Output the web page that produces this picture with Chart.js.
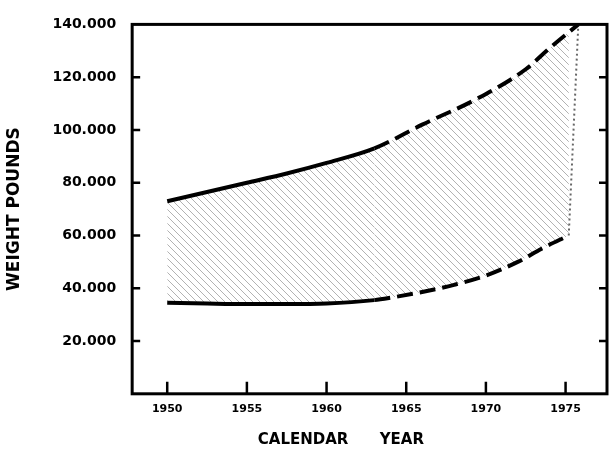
<!DOCTYPE html>
<html lang="en">
<head>
<meta charset="UTF-8">
<title>Weight vs Calendar Year</title>
<script src="https://cdn.jsdelivr.net/npm/chart.js"></script>
<style>
  html, body { margin: 0; padding: 0; background: #fff; }
  .wrap { width: 614px; height: 455px; }
</style>
</head>
<body>
<div class="wrap"><canvas id="weightChart"></canvas></div>
<script>
  // tick values
  const yearTicks = [1950, 1955, 1960, 1965, 1970, 1975];
  const weightTicks = [20000, 40000, 60000, 80000, 100000, 120000, 140000];

  // upper bound of the band (solid up to ~1963, dashed after)
  const upperYears   = [1950, 1952.5, 1955, 1957.5, 1960, 1963, 1966, 1969.5, 1972.5, 1974, 1975.8];
  const upperWeights = [73000, 76500, 80000, 83500, 87500, 93000, 102000, 112000, 123000, 131000, 140000];

  // lower bound of the band
  const lowerYears   = [1950, 1952.5, 1955, 1957.5, 1960, 1963, 1964, 1966, 1968, 1970, 1972, 1973.5, 1975.2];
  const lowerWeights = [34500, 34200, 34000, 34000, 34200, 35500, 36400, 38600, 41300, 44800, 50000, 55000, 60000];

  const dashFrom = 1963;

  function toPoints(xs, ys) {
    return xs.map((x, i) => ({ x: x, y: ys[i] }));
  }

  function hatch() {
    const c = document.createElement('canvas');
    c.width = 7; c.height = 7;
    const g = c.getContext('2d');
    g.strokeStyle = 'rgba(0,0,0,0.3)';
    g.lineWidth = 1;
    g.beginPath();
    g.moveTo(0, 0); g.lineTo(7, 7);
    g.moveTo(-1, 6); g.lineTo(1, 8);
    g.moveTo(6, -1); g.lineTo(8, 1);
    g.stroke();
    return g.createPattern(c, 'repeat');
  }

  // black box round the plot with inward tick marks
  const framePlugin = {
    id: 'frame',
    afterDraw(chart) {
      const { ctx, chartArea: a, scales: { x, y } } = chart;
      ctx.save();
      ctx.strokeStyle = '#000';
      ctx.lineWidth = 3;
      ctx.strokeRect(a.left, a.top, a.right - a.left, a.bottom - a.top);
      ctx.lineWidth = 2.5;
      ctx.beginPath();
      weightTicks.forEach(v => {
        if (v >= 140000) return;
        const py = y.getPixelForValue(v);
        ctx.moveTo(a.left, py); ctx.lineTo(a.left + 8, py);
        ctx.moveTo(a.right, py); ctx.lineTo(a.right - 8, py);
      });
      yearTicks.forEach(v => {
        const px = x.getPixelForValue(v);
        ctx.moveTo(px, a.bottom); ctx.lineTo(px, a.bottom - 12);
      });
      ctx.stroke();
      ctx.restore();
    }
  };

  const dashed = ctx => ctx.p0.parsed.x >= dashFrom - 0.01 ? [16, 7] : undefined;

  new Chart(document.getElementById('weightChart'), {
    type: 'line',
    data: {
      datasets: [
        {
          data: toPoints(upperYears, upperWeights),
          borderColor: '#000',
          borderWidth: 4,
          pointRadius: 0,
          cubicInterpolationMode: 'monotone',
          fill: '+1',
          backgroundColor: hatch(),
          segment: { borderDash: dashed }
        },
        {
          data: toPoints(lowerYears, lowerWeights),
          borderColor: '#000',
          borderWidth: 4,
          pointRadius: 0,
          cubicInterpolationMode: 'monotone',
          fill: false,
          segment: { borderDash: dashed }
        },
        {
          // dotted right edge of the band
          data: [
            { x: lowerYears[lowerYears.length - 1], y: lowerWeights[lowerWeights.length - 1] },
            { x: upperYears[upperYears.length - 1], y: upperWeights[upperWeights.length - 1] }
          ],
          borderColor: 'rgba(0,0,0,0.6)',
          borderWidth: 2,
          borderDash: [2, 3],
          pointRadius: 0,
          fill: false
        }
      ]
    },
    options: {
      responsive: true,
      maintainAspectRatio: false,
      animation: false,
      layout: { padding: { left: 4, right: 7, top: 20, bottom: 6 } },
      plugins: { legend: { display: false }, tooltip: { enabled: false } },
      scales: {
        x: {
          type: 'linear',
          min: 1947.8,
          max: 1977.6,
          afterBuildTicks: s => { s.ticks = yearTicks.map(v => ({ value: v })); },
          grid: { display: false, drawTicks: false },
          border: { display: false },
          ticks: {
            color: '#000',
            padding: 9,
            maxRotation: 0,
            font: { family: 'DejaVu Sans', size: 11, weight: 'bold' },
            callback: v => String(v)
          },
          title: {
            display: true,
            text: 'CALENDAR      YEAR           ',
            color: '#000',
            padding: { top: 6, bottom: 0 },
            font: { family: 'DejaVu Sans', size: 15, weight: 'bold' }
          }
        },
        y: {
          min: 0,
          max: 140000,
          afterBuildTicks: s => { s.ticks = weightTicks.map(v => ({ value: v })); },
          grid: { display: false, drawTicks: false },
          border: { display: false },
          ticks: {
            color: '#000',
            padding: 16,
            font: { family: 'DejaVu Sans', size: 14, weight: 'bold' },
            callback: v => (v / 1000) + '.000'
          },
          title: {
            display: true,
            text: 'WEIGHT POUNDS',
            color: '#000',
            padding: { top: 0, bottom: 12 },
            font: { family: 'DejaVu Sans', size: 17, weight: 'bold' }
          }
        }
      }
    },
    plugins: [framePlugin]
  });
</script>
</body>
</html>
